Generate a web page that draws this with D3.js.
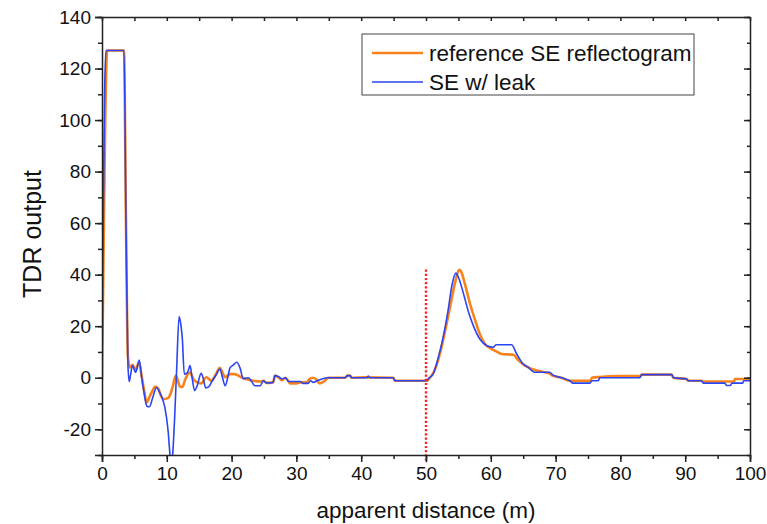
<!DOCTYPE html>
<html>
<head>
<meta charset="utf-8">
<script src="https://cdn.jsdelivr.net/npm/d3@7"></script>
<style>
body { margin: 0; background: #fff; }
svg { font-family: "Liberation Sans", Arial, sans-serif; }
</style>
</head>
<body>
<svg id="chart" width="767" height="524"></svg>
<script>
// reference SE reflectogram, [distance m, TDR output]
var refPoints = [[0,-1],[0.2,40],[0.5,100],[0.8,127],[3.4,127],[3.7,60],[4.0,8],[4.3,4],[4.7,5],[5.2,3],[5.7,6],[6.1,1],[6.5,-5],[6.9,-9.6],[7.4,-7],[7.8,-5],[8.2,-3.4],[8.7,-4.3],[9.1,-7],[9.5,-8.3],[10.2,-7.9],[10.6,-6],[10.9,-3.6],[11.4,0.8],[11.7,-1],[12.0,-3.4],[12.4,-3.6],[12.8,-1],[13.1,0.8],[13.6,2],[14.0,0],[14.3,-1.2],[15.3,-2.2],[16.1,0.2],[16.9,-1.2],[17.6,1.5],[18.2,3.8],[18.6,2],[19.0,0.2],[19.75,1.4],[20.5,1.4],[21.5,0.2],[22.6,-0.8],[23.6,-1.3],[24.4,-1.5],[24.9,-1.2],[25.4,-2],[26.4,-1.8],[26.7,0.8],[27.2,0.2],[27.8,-1],[28.3,0],[28.8,-1.5],[29.0,-2.2],[30.0,-2.2],[30.6,-1.8],[31.6,-1.8],[32.0,-0.5],[32.6,0],[33.0,-0.5],[33.6,-2.2],[34.4,-1.2],[34.9,0],[37.5,0],[37.9,0.8],[38.3,0.8],[38.5,0],[40.6,0.2],[44.95,0],[45.2,-1.2],[50.1,-1.2],[50.6,0],[51.2,2.2],[52.2,9.8],[52.9,17.6],[53.7,27.3],[54.5,37],[55.1,41.9],[55.4,41.3],[56.0,36.4],[56.8,28.6],[57.6,22.2],[58.3,17],[59.1,13.1],[60.1,11.2],[60.9,10.1],[61.7,9.2],[63.5,8.9],[64.2,6.9],[65.3,4.7],[66.3,3.4],[67.6,2.5],[69.1,1.6],[69.5,0.8],[70.9,0],[72.2,-1.2],[75.4,-1.2],[75.6,0],[76.8,0.3],[79.5,0.6],[83.0,0.6],[83.3,1.2],[87.9,1.2],[88.2,0],[90.2,-0.5],[90.5,-1.2],[92.5,-1.2],[92.8,-1.5],[97.5,-1.5],[97.7,-0.5],[100,-0.5]];

// SE w/ leak
var leakPoints = [[0,0],[0.15,50],[0.4,110],[0.6,127],[3.4,127],[3.7,60],[4.0,5],[4.2,-1.5],[4.4,1],[4.7,4.7],[5.2,2.1],[5.76,6.9],[6.1,0.5],[6.5,-6],[6.9,-10.9],[7.3,-11.3],[7.8,-8],[8.4,-3.8],[8.9,-5.7],[9.3,-8],[9.7,-11.5],[10.2,-20.6],[10.5,-30],[10.7,-34],[10.9,-30],[11.2,-16],[11.5,2],[11.9,23.7],[12.2,20],[12.4,15],[12.7,1.4],[13.2,2],[13.6,4.7],[13.9,0],[14.3,-5],[14.7,-3],[15.3,1.7],[15.6,0],[16.0,-4],[16.5,-3.5],[16.9,-1.7],[17.6,1],[18.2,3.4],[18.6,0],[19.0,-3.1],[19.4,0],[19.75,3.8],[20.3,5],[20.8,6],[21.3,3.8],[21.8,-0.4],[22.6,0],[23.1,-1.5],[23.6,-3.1],[24.4,-3.1],[24.9,-1.2],[25.4,-2],[26.4,-1.8],[26.7,0.8],[27.2,0.5],[27.8,-0.5],[28.3,0],[28.8,-1.5],[30.6,-1.5],[31.0,-2.2],[31.8,-2.2],[32.2,-1.2],[32.6,-1.8],[33.2,-1.2],[34.9,0],[37.5,0],[37.9,0.8],[38.3,0.8],[38.5,0],[40.9,0],[41.1,0.6],[41.3,0],[44.95,0],[45.2,-1.2],[50.1,-1.2],[50.4,-0.3],[51.1,1.4],[51.9,7.9],[52.7,16.3],[53.4,26],[54.0,35.8],[54.6,40.6],[55.0,39],[55.8,32.5],[56.5,26],[57.3,20.2],[58.3,15],[59.4,12.4],[60.4,11.8],[60.8,12.8],[63.2,12.8],[64.0,9.2],[65.0,5.3],[65.8,4],[66.7,2.1],[69.1,2.1],[69.5,1.2],[70.9,0],[72.2,-1.2],[72.7,-2.1],[75.3,-2.1],[75.6,-1.2],[76.6,-1.2],[76.8,0],[83.0,0],[83.3,1.2],[87.9,1.2],[88.2,0],[90.2,-0.5],[90.5,-1.2],[92.5,-1.2],[92.8,-2.1],[96.1,-2.1],[96.4,-3],[97.0,-3],[97.2,-2.1],[98.9,-2.1],[99.0,-1.2],[100,-1.2]];

var xTicks = [0,10,20,30,40,50,60,70,80,90,100];
var yTicks = [-20,0,20,40,60,80,100,120,140];
var markerX = 50;   // red dotted line
var markerTop = 42;
var seriesNames = ["reference SE reflectogram", "SE w/ leak"];
var seriesColors = ["#f7821e", "#2b45f0"];

var svg = d3.select("#chart");
var mLeft = 102, mRight = 750, mTop = 17, mBottom = 455;

var x = d3.scaleLinear().domain([0,100]).range([mLeft,mRight]);
var y = d3.scaleLinear().domain([-30,140]).range([mBottom,mTop]);
var plain = function(d){ return String(d); };  // hyphen minus like the original

svg.append("defs").append("clipPath").attr("id","plotclip")
  .append("rect").attr("x",mLeft).attr("y",mTop).attr("width",mRight-mLeft).attr("height",mBottom-mTop);

var line = d3.line().x(function(d){ return x(d[0]); }).y(function(d){ return y(d[1]); })
  .curve(d3.curveMonotoneX);

var plot = svg.append("g").attr("clip-path","url(#plotclip)");
plot.append("path").datum(refPoints)
  .attr("d",line).attr("fill","none").attr("stroke",seriesColors[0]).attr("stroke-width",2.6)
  .attr("stroke-linejoin","round");
plot.append("path").datum(leakPoints)
  .attr("d",line).attr("fill","none").attr("stroke",seriesColors[1]).attr("stroke-width",1.6)
  .attr("stroke-linejoin","round");

// red dotted line at 50 m
svg.append("line")
  .attr("x1",x(markerX)).attr("x2",x(markerX))
  .attr("y1",y(markerTop)).attr("y2",mBottom+8)
  .attr("stroke","#f52525").attr("stroke-width",2.4).attr("stroke-dasharray","2.2,2");

// axes
var minorX = d3.range(0,101,5), minorY = d3.range(-30,141,10);

var xAxis = svg.append("g").attr("transform","translate(0,"+mBottom+")")
  .call(d3.axisBottom(x).tickValues(xTicks).tickSize(7).tickPadding(5).tickFormat(plain));
xAxis.selectAll(".tick text").style("font-size","19px").attr("fill","#111");

svg.append("g").attr("transform","translate(0,"+mBottom+")")
  .call(d3.axisBottom(x).tickValues(minorX).tickSize(4).tickFormat(""))
  .select(".domain").remove();

var yAxis = svg.append("g").attr("transform","translate("+mLeft+",0)")
  .call(d3.axisLeft(y).tickValues(yTicks).tickSize(7).tickPadding(4).tickFormat(plain));
yAxis.selectAll(".tick text").style("font-size","19px").attr("fill","#111");

svg.append("g").attr("transform","translate("+mLeft+",0)")
  .call(d3.axisLeft(y).tickValues(minorY).tickSize(4).tickFormat(""))
  .select(".domain").remove();

// top and right, ticks inward
svg.append("g").attr("transform","translate(0,"+mTop+")")
  .call(d3.axisBottom(x).tickValues(minorX).tickSizeInner(4).tickSizeOuter(0).tickFormat(""));
svg.append("g").attr("transform","translate("+mRight+",0)")
  .call(d3.axisLeft(y).tickValues(yTicks).tickSizeInner(6).tickSizeOuter(0).tickFormat(""));
svg.append("g").attr("transform","translate("+mRight+",0)")
  .call(d3.axisLeft(y).tickValues(minorY).tickSizeInner(3).tickSizeOuter(0).tickFormat(""))
  .select(".domain").remove();

svg.selectAll(".domain").attr("stroke","#222").attr("stroke-width",1.5);
svg.selectAll(".tick line").attr("stroke","#222").attr("stroke-width",1.5);

// axis titles
svg.append("text").attr("x",(mLeft+mRight)/2).attr("y",518)
  .attr("text-anchor","middle").style("font-size","22.5px").attr("fill","#111")
  .text("apparent distance (m)");
svg.append("text").attr("transform","translate(41,234) rotate(-90)")
  .attr("text-anchor","middle").style("font-size","25px").attr("fill","#111")
  .text("TDR output");

// legend
var legend = svg.append("g");
legend.append("rect").attr("x",362).attr("y",34).attr("width",332).attr("height",61)
  .attr("fill","#fff").attr("stroke","#444").attr("stroke-width",1);
seriesNames.forEach(function(name,i){
  var ly = 53 + i*29;
  legend.append("line").attr("x1",372).attr("x2",423).attr("y1",ly).attr("y2",ly)
    .attr("stroke",seriesColors[i]).attr("stroke-width",i==0 ? 2.6 : 1.6);
  legend.append("text").attr("x",429).attr("y",ly+8).style("font-size","22.5px").attr("fill","#111")
    .text(name);
});
</script>
</body>
</html>
